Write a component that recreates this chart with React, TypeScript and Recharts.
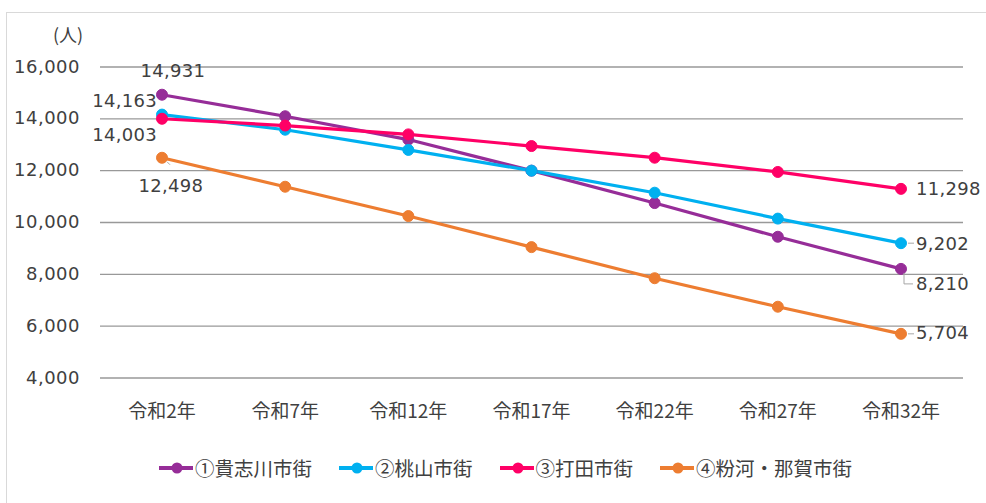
import { LineChart, Line, XAxis, YAxis, CartesianGrid, Legend, LabelList } from 'recharts';

// 人口推計（市街地別）
const years = ['令和2年', '令和7年', '令和12年', '令和17年', '令和22年', '令和27年', '令和32年'];
const kishigawa = [14931, 14100, 13200, 12000, 10750, 9450, 8210];
const momoyama = [14163, 13580, 12800, 12000, 11150, 10150, 9202];
const uchita = [14003, 13740, 13400, 12950, 12500, 11950, 11298];
const konaNaga = [12498, 11380, 10250, 9050, 7850, 6750, 5704];
const yTicks = [4000, 6000, 8000, 10000, 12000, 14000, 16000];

const series = [
  { key: 'kishigawa', name: '①貴志川市街', color: '#962D98', values: kishigawa },
  { key: 'momoyama', name: '②桃山市街', color: '#00B0F0', values: momoyama },
  { key: 'uchita', name: '③打田市街', color: '#FF0066', values: uchita },
  { key: 'konaNaga', name: '④粉河・那賀市街', color: '#ED7D31', values: konaNaga },
];

const data = years.map((year, i) => {
  const row: Record<string, string | number> = { year };
  series.forEach((s) => {
    row[s.key] = s.values[i];
  });
  return row;
});

const NUM_FONT = '"DejaVu Sans", Verdana, sans-serif';
const JP_FONT = '"Noto Sans CJK JP", "Noto Sans", sans-serif';
const TEXT = '#404040';
const LEADER = '#a6a6a6';

// where the first / last value labels sit, relative to the point
type LabelPos = { dx: number; dy: number; anchor: 'start' | 'middle' | 'end'; leader?: string };
const labelPos: Record<string, { first: LabelPos; last: LabelPos }> = {
  kishigawa: {
    first: { dx: 11, dy: -24, anchor: 'middle' },
    last: { dx: 15, dy: 15, anchor: 'start', leader: 'M3,4 V15 H12' },
  },
  momoyama: {
    first: { dx: -5, dy: -14, anchor: 'end' },
    last: { dx: 15, dy: 0, anchor: 'start', leader: 'M7,0 H13' },
  },
  uchita: {
    first: { dx: -5, dy: 16, anchor: 'end' },
    last: { dx: 15, dy: 0, anchor: 'start' },
  },
  konaNaga: {
    first: { dx: 9, dy: 28, anchor: 'middle', leader: 'M5,4 L8,7' },
    last: { dx: 15, dy: -1, anchor: 'start', leader: 'M7,0 H13' },
  },
};

const makeLabel = (key: string) => (props: any) => {
  const { x, y, value, index } = props;
  let pos: LabelPos | null = null;
  if (index === 0) pos = labelPos[key].first;
  if (index === years.length - 1) pos = labelPos[key].last;
  if (!pos) return null;
  return (
    <g>
      {pos.leader && (
        <path d={pos.leader} transform={`translate(${x},${y})`} stroke={LEADER} strokeWidth={1} fill="none" />
      )}
      <text
        x={x + pos.dx}
        y={y + pos.dy}
        textAnchor={pos.anchor}
        dominantBaseline="central"
        fontFamily={NUM_FONT}
        fontSize={18}
        letterSpacing={0.3}
        fill={TEXT}
      >
        {Number(value).toLocaleString('en-US')}
      </text>
    </g>
  );
};

const XTick = ({ x, y, payload }: any) => (
  <text x={x} y={y + 31} textAnchor="middle" dominantBaseline="central" fontFamily={JP_FONT} fontSize={19} fill={TEXT}>
    {payload.value}
  </text>
);

const YTick = ({ x, y, payload }: any) => (
  <text
    x={x - 20}
    y={y - 1}
    textAnchor="end"
    dominantBaseline="central"
    fontFamily={NUM_FONT}
    fontSize={18}
    letterSpacing={0.5}
    fill={TEXT}
  >
    {Number(payload.value).toLocaleString('en-US')}
  </text>
);

const LegendBox = () => (
  <div style={{ height: 40, display: 'flex', alignItems: 'center', paddingLeft: 159 }}>
    {series.map((s) => (
      <div key={s.key} style={{ display: 'flex', alignItems: 'center', marginRight: 27 }}>
        <svg width={34} height={14} style={{ marginRight: 2 }}>
          <line x1={0} y1={7} x2={34} y2={7} stroke={s.color} strokeWidth={4} />
          <circle cx={18} cy={7} r={5.5} fill={s.color} />
        </svg>
        <span style={{ fontFamily: JP_FONT, fontSize: 19.5, color: TEXT, lineHeight: '40px' }}>{s.name}</span>
      </div>
    ))}
  </div>
);

export default function App() {
  return (
    <div style={{ position: 'absolute', left: 0, top: 0, width: 986, height: 503, background: '#fff', overflow: 'hidden' }}>
      <div
        style={{
          position: 'absolute',
          left: 6,
          top: 12,
          width: 1000,
          height: 520,
          borderLeft: '1px solid #d9d9d9',
          borderTop: '1px solid #d9d9d9',
        }}
      />
      <div
        style={{
          position: 'absolute',
          left: 53,
          top: 21,
          fontFamily: JP_FONT,
          fontSize: 18,
          color: TEXT,
        }}
      >
        (人)
      </div>
      <LineChart width={986} height={503} data={data} margin={{ top: 67, right: 23, left: 0, bottom: 15 }}>
        <CartesianGrid vertical={false} stroke="#999999" strokeWidth={1.3} />
        <XAxis
          dataKey="year"
          height={70}
          axisLine={false}
          tickLine={false}
          tickSize={0}
          tickMargin={0}
          padding={{ left: 62, right: 62 }}
          tick={<XTick />}
          interval={0}
        />
        <YAxis
          width={100}
          domain={[4000, 16000]}
          ticks={yTicks}
          axisLine={false}
          tickLine={false}
          tickSize={0}
          tickMargin={0}
          tick={<YTick />}
          interval={0}
        />
        <Legend verticalAlign="bottom" wrapperStyle={{ bottom: 15, left: 0, width: 986 }} content={<LegendBox />} />
        {series.map((s) => (
          <Line
            key={s.key}
            dataKey={s.key}
            name={s.name}
            stroke={s.color}
            strokeWidth={3.2}
            dot={{ r: 5.5, fill: s.color, stroke: s.color, strokeWidth: 1 }}
            activeDot={false}
            isAnimationActive={false}
          >
            <LabelList dataKey={s.key} content={makeLabel(s.key)} />
          </Line>
        ))}
      </LineChart>
    </div>
  );
}
